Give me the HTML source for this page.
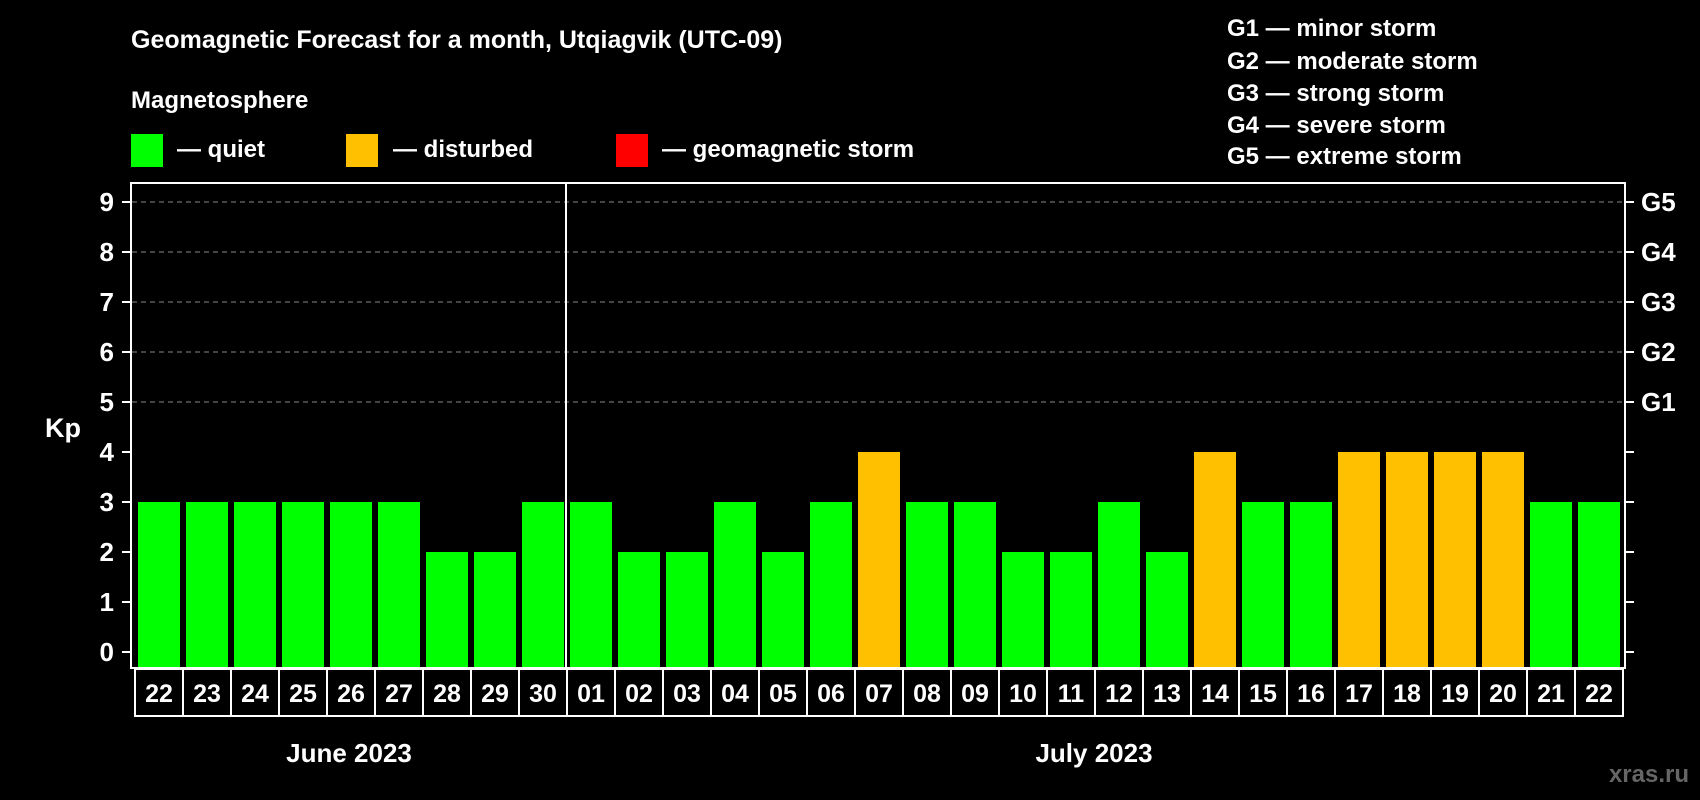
<!DOCTYPE html>
<html><head><meta charset="utf-8"><style>
html,body{margin:0;padding:0;background:#000;}
svg{display:block;font-family:"Liberation Sans",Arial,sans-serif;font-weight:bold;}
</style></head><body>
<svg id="chart" width="1700" height="800" viewBox="0 0 1700 800">
<rect width="1700" height="800" fill="#000"/>
<text x="131" y="48" fill="#fff" font-size="25">Geomagnetic Forecast for a month, Utqiagvik (UTC-09)</text>
<text x="131" y="108" fill="#fff" font-size="24">Magnetosphere</text>
<g><rect x="131" y="134" width="32" height="33" fill="#00ff00"/><text x="177" y="157" fill="#fff" font-size="24">— quiet</text></g>
<g><rect x="346" y="134" width="32" height="33" fill="#ffc000"/><text x="393" y="157" fill="#fff" font-size="24">— disturbed</text></g>
<g><rect x="616" y="134" width="32" height="33" fill="#ff0000"/><text x="662" y="157" fill="#fff" font-size="24">— geomagnetic storm</text></g>
<g fill="#fff" font-size="24">
<text x="1227" y="36">G1 — minor storm</text>
<text x="1227" y="69">G2 — moderate storm</text>
<text x="1227" y="101">G3 — strong storm</text>
<text x="1227" y="133">G4 — severe storm</text>
<text x="1227" y="164">G5 — extreme storm</text>
</g>
<text x="63" y="437" fill="#fff" font-size="27" text-anchor="middle">Kp</text>
<g id="grid"></g>
<g id="bars"></g>
<rect x="131" y="183" width="1494" height="485" fill="none" stroke="#fff" stroke-width="2"/>
<g id="axes"></g>
<g id="xlabels"></g>
<text x="349" y="762" fill="#fff" font-size="26" text-anchor="middle">June 2023</text>
<text x="1094" y="762" fill="#fff" font-size="26" text-anchor="middle">July 2023</text>
<text x="1689" y="782" fill="#666" font-size="24" text-anchor="end">xras.ru</text>
</svg>
<script>
const days = ["22","23","24","25","26","27","28","29","30","01","02","03","04","05","06","07","08","09","10","11","12","13","14","15","16","17","18","19","20","21","22"];
const kpValues = [3,3,3,3,3,3,2,2,3,3,2,2,3,2,3,4,3,3,2,2,3,2,4,3,3,4,4,4,4,3,3];
const yTicks = [0,1,2,3,4,5,6,7,8,9];
const gLabels = ["G1","G2","G3","G4","G5"];
const NS="http://www.w3.org/2000/svg";
const x0=135, slot=(1623-135)/days.length;
function yScale(v){return 652-v*50;}
function xScale(i){return x0+i*slot;}
function mk(tag,attrs,parent){const e=document.createElementNS(NS,tag);for(const k in attrs)e.setAttribute(k,attrs[k]);parent.appendChild(e);return e;}
const grid=document.getElementById('grid'),bars=document.getElementById('bars'),axes=document.getElementById('axes'),xl=document.getElementById('xlabels');
yTicks.forEach(v=>{
  const y=yScale(v);
  if(v>=5){const l=mk('line',{x1:132,x2:1624,y1:y,y2:y,stroke:'#888','stroke-dasharray':'5,4','stroke-width':1},grid);
    
    }
  const t1=mk('line',{x1:122,x2:131,y1:y,y2:y,stroke:'#fff','stroke-width':2},axes);
  
  
  const t2=mk('line',{x1:1625,x2:1634,y1:y,y2:y,stroke:'#fff','stroke-width':2},axes);
  
  
  const tx=mk('text',{x:114,y:y+9,fill:'#fff','font-size':26,'text-anchor':'end'},axes);tx.textContent=v;
  
  
  if(v>=5){const g=mk('text',{x:1641,y:y+9,fill:'#fff','font-size':26},axes);g.textContent=gLabels[v-5];
    
    }
});
kpValues.forEach((v,i)=>{
  const col=v>=5?'#ff0000':(v>=4?'#ffc000':'#00ff00');
  const x=xScale(i)+3, w=slot-6;
  const b=mk('rect',{x:x,y:yScale(v),width:w,height:667-yScale(v),fill:col},bars);
  
  
  const bx=mk('rect',{x:xScale(i),y:669,width:slot,height:47,fill:'none',stroke:'#fff','stroke-width':2},xl);
  
  
  const t=mk('text',{x:xScale(i)+slot/2,y:702,fill:'#fff','font-size':25,'text-anchor':'middle'},xl);t.textContent=days[i];
  
  
});
const div=mk('line',{x1:xScale(9)-1,x2:xScale(9)-1,y1:183,y2:668,stroke:'#fff','stroke-width':2},axes);


</script>
</body></html>
